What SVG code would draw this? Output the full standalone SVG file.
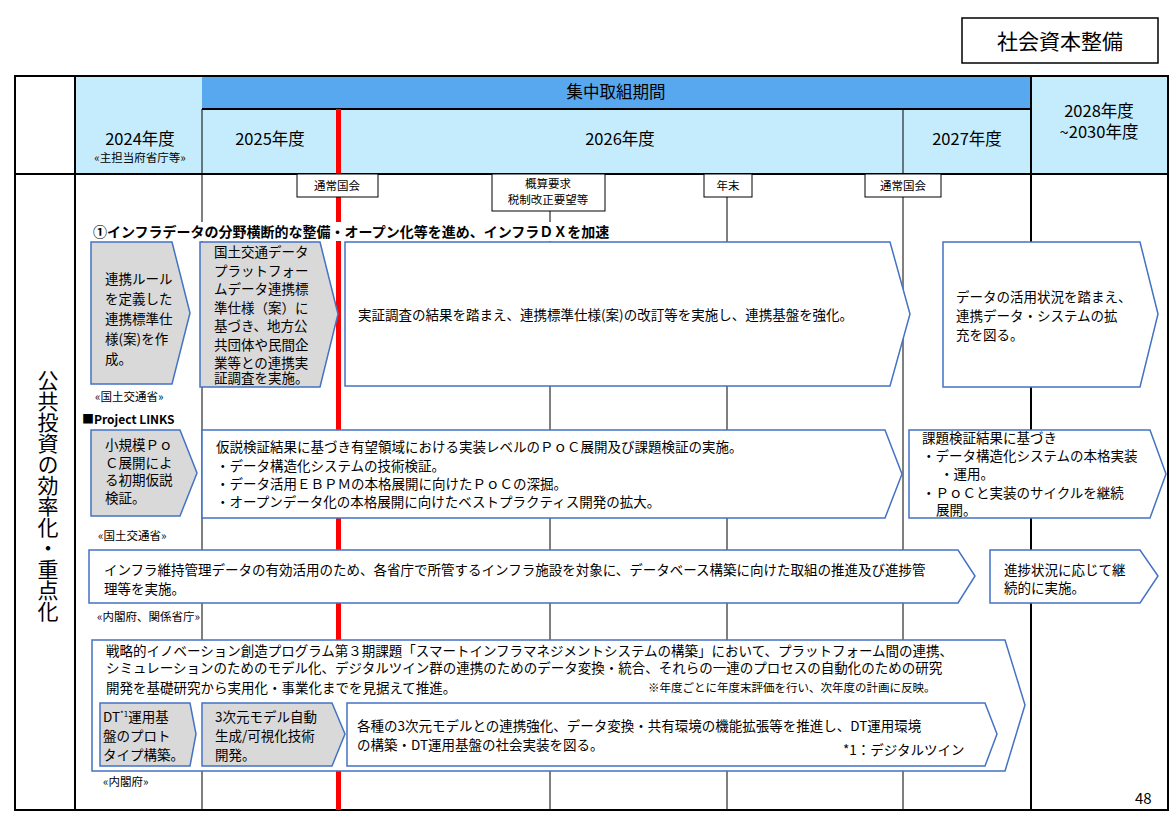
<svg xmlns="http://www.w3.org/2000/svg" width="1170" height="827" viewBox="0 0 1170 827">
<style>
text{font-family:"Noto Sans CJK JP","Noto Sans",sans-serif;fill:#000}
.t{font-size:13.5px}
.s{font-size:11.5px}
.h{font-size:16.5px}
.box{stroke:#4472c4;stroke-width:1.5;fill:#fff}
.g{fill:#d9d9d9}
.grid{stroke:#000;stroke-width:1}
.thick{stroke:#000;stroke-width:2}
.mk{fill:#fff;stroke:#000;stroke-width:1}
</style>
<rect width="1170" height="827" fill="#fff"/>
<g id="title"><rect x="962" y="18" width="196" height="45" fill="#fff" stroke="#000" stroke-width="1.5"/><text x="1060" y="49" font-size="21" text-anchor="middle">社会資本整備</text></g>
<g id="header">
<rect x="75" y="76" width="1093" height="98" fill="#c5ecfc"/>
<rect x="15" y="76" width="60" height="98" fill="#fff"/>
<rect x="202" y="76" width="829" height="33" fill="#58a8f0"/>
<line x1="202" y1="109" x2="1031" y2="109" class="thick"/>
<text x="616" y="98" class="h" text-anchor="middle">集中取組期間</text>
<text x="140" y="145" class="h" text-anchor="middle">2024年度</text>
<text x="140" y="162" class="s" text-anchor="middle">«主担当府省庁等»</text>
<text x="270" y="145" class="h" text-anchor="middle">2025年度</text>
<text x="620" y="145" class="h" text-anchor="middle">2026年度</text>
<text x="967" y="145" class="h" text-anchor="middle">2027年度</text>
<text x="1099" y="117" class="h" text-anchor="middle">2028年度</text>
<text x="1099" y="138" class="h" text-anchor="middle">~2030年度</text>
</g>
<g id="grid">
<line x1="202" y1="109" x2="202" y2="810" class="grid"/>
<line x1="550" y1="174" x2="550" y2="810" class="grid"/>
<line x1="727" y1="174" x2="727" y2="810" class="grid"/>
<line x1="903" y1="109" x2="903" y2="810" class="grid"/>
<line x1="1031" y1="76" x2="1031" y2="810" class="thick"/>
<line x1="75" y1="76" x2="75" y2="810" class="thick"/>
<line x1="15" y1="174" x2="1168" y2="174" class="thick"/>
<rect x="15" y="76" width="1153" height="734" fill="none" stroke="#000" stroke-width="2"/>
<rect x="336" y="109" width="5" height="701" fill="#f00"/>
</g>
<g id="markers">
<rect x="297" y="174" width="81" height="23" class="mk"/><text x="337" y="190" class="s" text-anchor="middle">通常国会</text>
<rect x="492" y="174" width="113" height="37" class="mk"/><text x="548" y="188" class="s" text-anchor="middle">概算要求</text><text x="548" y="204" class="s" text-anchor="middle">税制改正要望等</text>
<rect x="704" y="174" width="48" height="23" class="mk"/><text x="728" y="190" class="s" text-anchor="middle">年末</text>
<rect x="865" y="174" width="76" height="23" class="mk"/><text x="903" y="190" class="s" text-anchor="middle">通常国会</text>
</g>
<g id="side"><text x="48" y="370" font-size="21" writing-mode="tb">公共投資の効率化・重点化</text></g>
<rect x="90" y="222" width="540" height="19" fill="#fff"/>
<text x="93" y="237" font-size="14" font-weight="bold">①インフラデータの分野横断的な整備・オープン化等を進め、インフラＤＸを加速</text>
<g id="n1"><path d="M91 242H172L190 313L172 384H91Z" class="box g"/>
<text class="t"><tspan x="105" y="284">連携ルール</tspan><tspan x="105" y="304">を定義した</tspan><tspan x="105" y="324">連携標準仕</tspan><tspan x="105" y="344">様(案)を作</tspan><tspan x="105" y="364">成。</tspan></text></g>
<g id="n2"><path d="M200 242H320L338 314L320 387H200Z" class="box g"/>
<text class="t"><tspan x="214" y="257">国土交通データ</tspan><tspan x="214" y="275.5">プラットフォー</tspan><tspan x="214" y="294">ムデータ連携標</tspan><tspan x="214" y="312.5">準仕様（案）に</tspan><tspan x="214" y="331">基づき、地方公</tspan><tspan x="214" y="349.5">共団体や民間企</tspan><tspan x="214" y="368">業等との連携実</tspan><tspan x="214" y="383">証調査を実施。</tspan></text></g>
<g id="n3"><path d="M345 242H890L910 314L890 386H345Z" class="box"/>
<text x="358" y="320" class="t">実証調査の結果を踏まえ、連携標準仕様(案)の改訂等を実施し、連携基盤を強化。</text></g>
<g id="n4"><path d="M943 242H1140L1158 314L1140 387H943Z" class="box"/>
<text class="t"><tspan x="956" y="302">データの活用状況を踏まえ、</tspan><tspan x="956" y="321">連携データ・システムの拡</tspan><tspan x="956" y="340">充を図る。</tspan></text></g>
<text x="95" y="401" class="s">«国土交通省»</text>
<text x="82" y="424" font-size="12" font-weight="bold">■Project LINKS</text>
<g id="n5"><path d="M91 430H180L197 473L180 516H91Z" class="box g"/>
<text class="t"><tspan x="105" y="450">小規模Ｐｏ</tspan><tspan x="105" y="467.5">Ｃ展開によ</tspan><tspan x="105" y="485">る初期仮説</tspan><tspan x="105" y="503">検証。</tspan></text></g>
<g id="n6"><path d="M202 430H885L902 474L885 518H202Z" class="box"/>
<text class="t"><tspan x="216" y="452">仮説検証結果に基づき有望領域における実装レベルのＰｏＣ展開及び課題検証の実施。</tspan><tspan x="216" y="471">・データ構造化システムの技術検証。</tspan><tspan x="216" y="489">・データ活用ＥＢＰＭの本格展開に向けたＰｏＣの深掘。</tspan><tspan x="216" y="507">・オープンデータ化の本格展開に向けたベストプラクティス開発の拡大。</tspan></text></g>
<g id="n7"><path d="M909 430H1150L1166 474L1150 518H909Z" class="box"/>
<text class="t"><tspan x="922" y="443">課題検証結果に基づき</tspan><tspan x="922" y="461">・データ構造化システムの本格実装</tspan><tspan x="940" y="479">・運用。</tspan><tspan x="922" y="498">・ＰｏＣと実装のサイクルを継続</tspan><tspan x="936" y="515">展開。</tspan></text></g>
<text x="98" y="540" class="s">«国土交通省»</text>
<g id="n8"><path d="M89 550H958L975 576L958 603H89Z" class="box"/>
<text class="t"><tspan x="104" y="575">インフラ維持管理データの有効活用のため、各省庁で所管するインフラ施設を対象に、データベース構築に向けた取組の推進及び進捗管</tspan><tspan x="104" y="594">理等を実施。</tspan></text></g>
<g id="n9"><path d="M990 550H1140L1158 576L1140 603H990Z" class="box"/>
<text class="t"><tspan x="1004" y="575">進捗状況に応じて継</tspan><tspan x="1004" y="593">続的に実施。</tspan></text></g>
<text x="97" y="621" class="s">«内閣府、関係省庁»</text>
<g id="n10"><path d="M92 640H1005L1025 705L1005 771H92Z" class="box"/>
<text class="t"><tspan x="106" y="656">戦略的イノベーション創造プログラム第３期課題「スマートインフラマネジメントシステムの構築」において、プラットフォーム間の連携、</tspan><tspan x="106" y="673">シミュレーションのためのモデル化、デジタルツイン群の連携のためのデータ変換・統合、それらの一連のプロセスの自動化のための研究</tspan><tspan x="106" y="693">開発を基礎研究から実用化・事業化までを見据えて推進。</tspan></text>
<text x="648" y="692" class="s">※年度ごとに年度末評価を行い、次年度の計画に反映。</text></g>
<g id="n11"><path d="M100 703H190L196 734L190 766H100Z" class="box g"/>
<text class="t"><tspan x="103" y="722">DT<tspan font-size="8" dy="-5">*1</tspan><tspan dy="5">運用基</tspan></tspan><tspan x="103" y="741">盤のプロト</tspan><tspan x="103" y="760">タイプ構築。</tspan></text></g>
<g id="n12"><path d="M202 703H332L345 734L332 766H202Z" class="box g"/>
<text class="t"><tspan x="215" y="722">3次元モデル自動</tspan><tspan x="215" y="741">生成/可視化技術</tspan><tspan x="215" y="760">開発。</tspan></text></g>
<g id="n13"><path d="M347 703H985L997 734L985 766H347Z" class="box"/>
<text class="t"><tspan x="357" y="731">各種の3次元モデルとの連携強化、データ変換・共有環境の機能拡張等を推進し、DT運用環境</tspan><tspan x="357" y="750">の構築・DT運用基盤の社会実装を図る。</tspan></text>
<text x="843" y="755" class="t">*1：デジタルツイン</text></g>
<text x="103" y="786" class="s">«内閣府»</text>
<text x="1135" y="804" font-size="15" font-family="Liberation Sans, sans-serif">48</text>
<g id="connectors"></g>
</svg>
